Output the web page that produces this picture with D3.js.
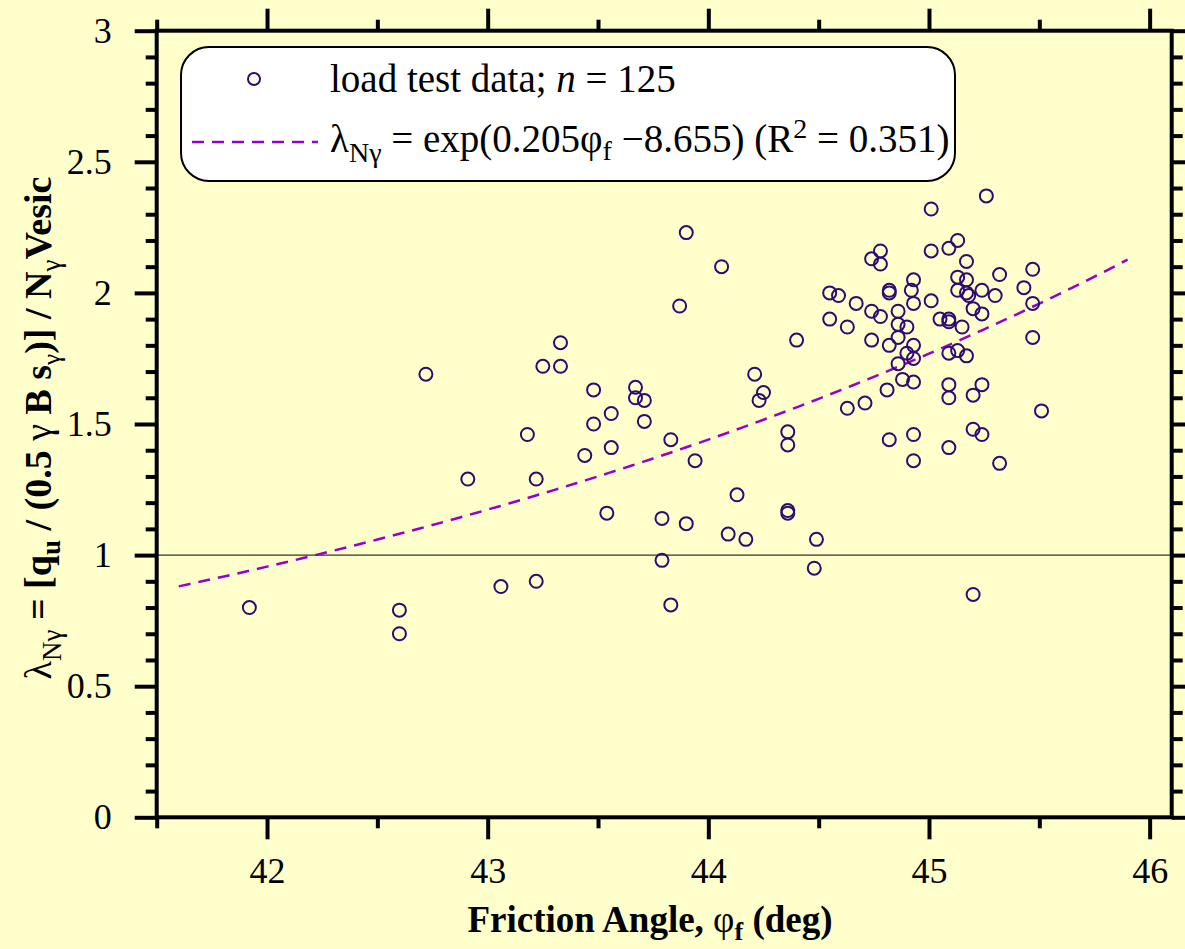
<!DOCTYPE html>
<html>
<head>
<meta charset="utf-8">
<script src="https://cdn.jsdelivr.net/npm/d3@7"></script>
<style>
  body { margin: 0; background: #ffffcc; }
  svg { display: block; }
  text { font-family: "Liberation Serif", "Times New Roman", serif; fill: #000; }
</style>
</head>
<body>
<svg id="chart" width="1185" height="949"></svg>
<script>
// friction angle (deg) of each load test
const phi = [
  41.92, 42.60, 42.60, 42.72, 42.91, 43.06, 43.22, 43.18, 43.22, 43.25,
  43.33, 43.33, 43.44, 43.48, 43.48, 43.56, 43.56, 43.54, 43.67, 43.67,
  43.71, 43.71, 43.83, 43.94, 43.79, 43.79, 43.83, 43.90, 43.87, 43.90,
  44.06, 44.13, 44.09, 44.17, 44.21, 44.25, 44.23, 44.40, 44.36, 44.36,
  44.36, 44.36, 44.49, 44.48,
  44.55, 44.59, 44.55, 44.63, 44.67, 44.63, 44.71, 44.74, 44.78, 44.78,
  44.74, 44.78, 44.74, 44.82, 44.82, 44.82, 44.81, 44.82, 44.86, 44.86,
  44.86, 44.86, 44.90, 44.90, 44.88, 44.93, 44.92, 44.93, 44.93, 44.93,
  44.93, 44.93, 44.93, 45.01, 45.01, 45.01, 45.05, 45.09, 45.09, 45.09,
  45.09, 45.09, 45.09, 45.09, 45.13, 45.13, 45.13, 45.13, 45.15, 45.17,
  45.17, 45.17, 45.17, 45.18, 45.20, 45.20, 45.20, 45.20, 45.24, 45.24,
  45.24, 45.24, 45.26, 45.30, 45.32, 45.32, 45.43, 45.47, 45.47, 45.47,
  45.51
]
// measured / predicted bearing capacity ratio
const lambda = [
  0.80, 0.79, 0.70, 1.69, 1.29, 0.88, 0.90, 1.46, 1.29, 1.72,
  1.72, 1.81, 1.38, 1.63, 1.50, 1.54, 1.41, 1.16, 1.64, 1.60,
  1.59, 1.51, 1.44, 1.36, 1.14, 0.98, 0.81, 1.12, 1.95, 2.23,
  2.10, 1.23, 1.08, 1.06, 1.69, 1.62, 1.59, 1.82, 1.47, 1.42,
  1.17, 1.16, 1.06, 0.95,
  2.00, 1.99, 1.90, 1.87, 1.96, 1.56, 1.58, 2.13, 2.16, 2.11,
  1.93, 1.91, 1.82, 2.01, 2.00, 1.80, 1.63, 1.44, 1.93, 1.88,
  1.83, 1.73, 1.87, 1.77, 1.67, 2.05, 2.01, 1.96, 1.80, 1.75,
  1.66, 1.46, 1.36, 2.16, 1.97, 2.32, 1.90, 1.90, 1.89, 2.17,
  1.77, 1.65, 1.60, 1.41, 2.20, 2.06, 2.01, 1.78, 1.87, 2.12,
  2.05, 2.00, 1.76, 1.99, 1.94, 1.61, 1.48, 0.85, 2.01, 1.92,
  1.65, 1.46, 2.37, 1.99, 2.07, 1.35, 2.02, 2.09, 1.96, 1.83,
  1.55
]

// fit from the legend: lambda = exp(a*phi + b)
const fitA = 0.205
const fitB = -8.655
const fitRange = [41.6, 45.9]

const xTicks = [42, 43, 44, 45, 46]
const yTicks = [0, 0.5, 1, 1.5, 2, 2.5, 3]

const svg = d3.select('#chart')
const W = 1185, H = 949
svg.append('rect').attr('width', W).attr('height', H).attr('fill', '#ffffcc')

const pL = 156.7, pR = 1171.7, pT = 30.7, pB = 817.3
const x = d3.scaleLinear().domain([41.5, 46.1]).range([pL, pR])
const y = d3.scaleLinear().domain([0, 3]).range([pB, pT])

const xMinor = d3.range(41.5, 46.11, 0.5).filter(v => !xTicks.includes(v))
const yMinor = d3.range(0, 3.01, 0.1).map(v => +v.toFixed(1)).filter(v => !yTicks.includes(v))

function drawAxis(axisFn, scale, ticks, size, pos, labels) {
  const g = svg.append('g').attr('transform', pos)
    .call(axisFn(scale).tickValues(ticks).tickSize(size).tickSizeOuter(0)
      .tickFormat(labels ? d3.format('') : ''))
  g.attr('font-family', null).attr('font-size', null)
  g.select('.domain').remove()
  g.selectAll('.tick line').attr('stroke', '#000').attr('stroke-width', 4)
  return g
}

// major + minor ticks on all four sides, all pointing outward
const bx = drawAxis(d3.axisBottom, x, xTicks, 22, `translate(0,${pB})`, true)
drawAxis(d3.axisBottom, x, xMinor, 11, `translate(0,${pB})`, false)
drawAxis(d3.axisTop, x, xTicks, 22, `translate(0,${pT})`, false)
drawAxis(d3.axisTop, x, xMinor, 11, `translate(0,${pT})`, false)
const ly = drawAxis(d3.axisLeft, y, yTicks, 22, `translate(${pL},0)`, true)
drawAxis(d3.axisLeft, y, yMinor, 11, `translate(${pL},0)`, false)
drawAxis(d3.axisRight, y, yTicks, 22, `translate(${pR},0)`, false)
drawAxis(d3.axisRight, y, yMinor, 11, `translate(${pR},0)`, false)

bx.selectAll('.tick text')
  .attr('y', 40)
  .attr('fill', '#000')
  .attr('font-family', '"Liberation Serif", "Times New Roman", serif')
  .style('font-size', '36px')
ly.selectAll('.tick text')
  .attr('x', -45)
  .attr('fill', '#000')
  .attr('font-family', '"Liberation Serif", "Times New Roman", serif')
  .style('font-size', '36px')

// reference line at lambda = 1
svg.append('line')
  .attr('x1', pL).attr('x2', pR)
  .attr('y1', y(1)).attr('y2', y(1))
  .attr('stroke', '#000').attr('stroke-width', 1)

// frame
svg.append('rect')
  .attr('x', pL).attr('y', pT)
  .attr('width', pR - pL).attr('height', pB - pT)
  .attr('fill', 'none').attr('stroke', '#000').attr('stroke-width', 4)

// fitted curve
const fitX = d3.range(fitRange[0], fitRange[1] + 0.001, 0.05)
svg.append('path')
  .datum(fitX)
  .attr('d', d3.line().x(d => x(d)).y(d => y(Math.exp(fitA * d + fitB))))
  .attr('fill', 'none')
  .attr('stroke', '#9400d3')
  .attr('stroke-width', 2.5)
  .attr('stroke-dasharray', '12,8')

// data points
svg.append('g').selectAll('circle')
  .data(phi.map((p, i) => [p, lambda[i]]))
  .join('circle')
  .attr('cx', d => x(d[0]))
  .attr('cy', d => y(d[1]))
  .attr('r', 6.5)
  .attr('fill', 'none')
  .attr('stroke', '#2e0a73')
  .attr('stroke-width', 2)

// legend
const lg = svg.append('g')
lg.append('rect')
  .attr('x', 181).attr('y', 47).attr('width', 774).attr('height', 134)
  .attr('rx', 28).attr('ry', 28)
  .attr('fill', '#fff').attr('stroke', '#000').attr('stroke-width', 2)
lg.append('circle')
  .attr('cx', 254).attr('cy', 79).attr('r', 6)
  .attr('fill', 'none').attr('stroke', '#2e0a73').attr('stroke-width', 2)
const t1 = lg.append('text').attr('x', 330).attr('y', 92).style('font-size', '39px')
t1.append('tspan').text('load test data; ')
t1.append('tspan').style('font-style', 'italic').text('n')
t1.append('tspan').text(' = 125')

lg.append('line')
  .attr('x1', 192).attr('x2', 318).attr('y1', 142).attr('y2', 142)
  .attr('stroke', '#9400d3').attr('stroke-width', 2.5).attr('stroke-dasharray', '12,8')
const t2 = lg.append('text').attr('x', 330).attr('y', 152).style('font-size', '39px')
t2.append('tspan').text('λ')
t2.append('tspan').attr('dy', 10).style('font-size', '28px').text('Nγ')
t2.append('tspan').attr('dy', -10).text(' = exp(0.205φ')
t2.append('tspan').attr('dy', 8).style('font-size', '28px').text('f')
t2.append('tspan').attr('dy', -8).text(' −8.655) (R')
t2.append('tspan').attr('dy', -14).style('font-size', '28px').text('2')
t2.append('tspan').attr('dy', 14).text(' = 0.351)')

// axis titles
svg.append('text')
  .attr('x', 650).attr('y', 932)
  .attr('text-anchor', 'middle')
  .style('font-size', '37px').style('font-weight', 'bold')
  .call(t => {
    t.append('tspan').text('Friction Angle, ')
    t.append('tspan').style('font-weight', 'normal').text('φ')
    t.append('tspan').attr('dy', 8).style('font-size', '26px').text('f')
    t.append('tspan').attr('dy', -8).text(' (deg)')
  })

const yt = svg.append('text')
  .attr('transform', 'translate(51,428) rotate(-90)')
  .attr('text-anchor', 'middle')
  .style('font-size', '38px').style('font-weight', 'bold')
yt.append('tspan').style('font-weight', 'normal').text('λ')
yt.append('tspan').attr('dy', 10).style('font-size', '27px').style('font-weight', 'normal').text('Nγ')
yt.append('tspan').attr('dy', -10).text(' = [q')
yt.append('tspan').attr('dy', 9).style('font-size', '27px').text('u')
yt.append('tspan').attr('dy', -9).text(' / (0.5 ')
yt.append('tspan').style('font-weight', 'normal').text('γ')
yt.append('tspan').text(' B s')
yt.append('tspan').attr('dy', 9).style('font-size', '25px').style('font-weight', 'normal').text('γ')
yt.append('tspan').attr('dy', -9).text(')] / N')
yt.append('tspan').attr('dy', 9).style('font-size', '27px').style('font-weight', 'normal').text('γ')
yt.append('tspan').attr('dy', -9).text('Vesic')
</script>
</body>
</html>
